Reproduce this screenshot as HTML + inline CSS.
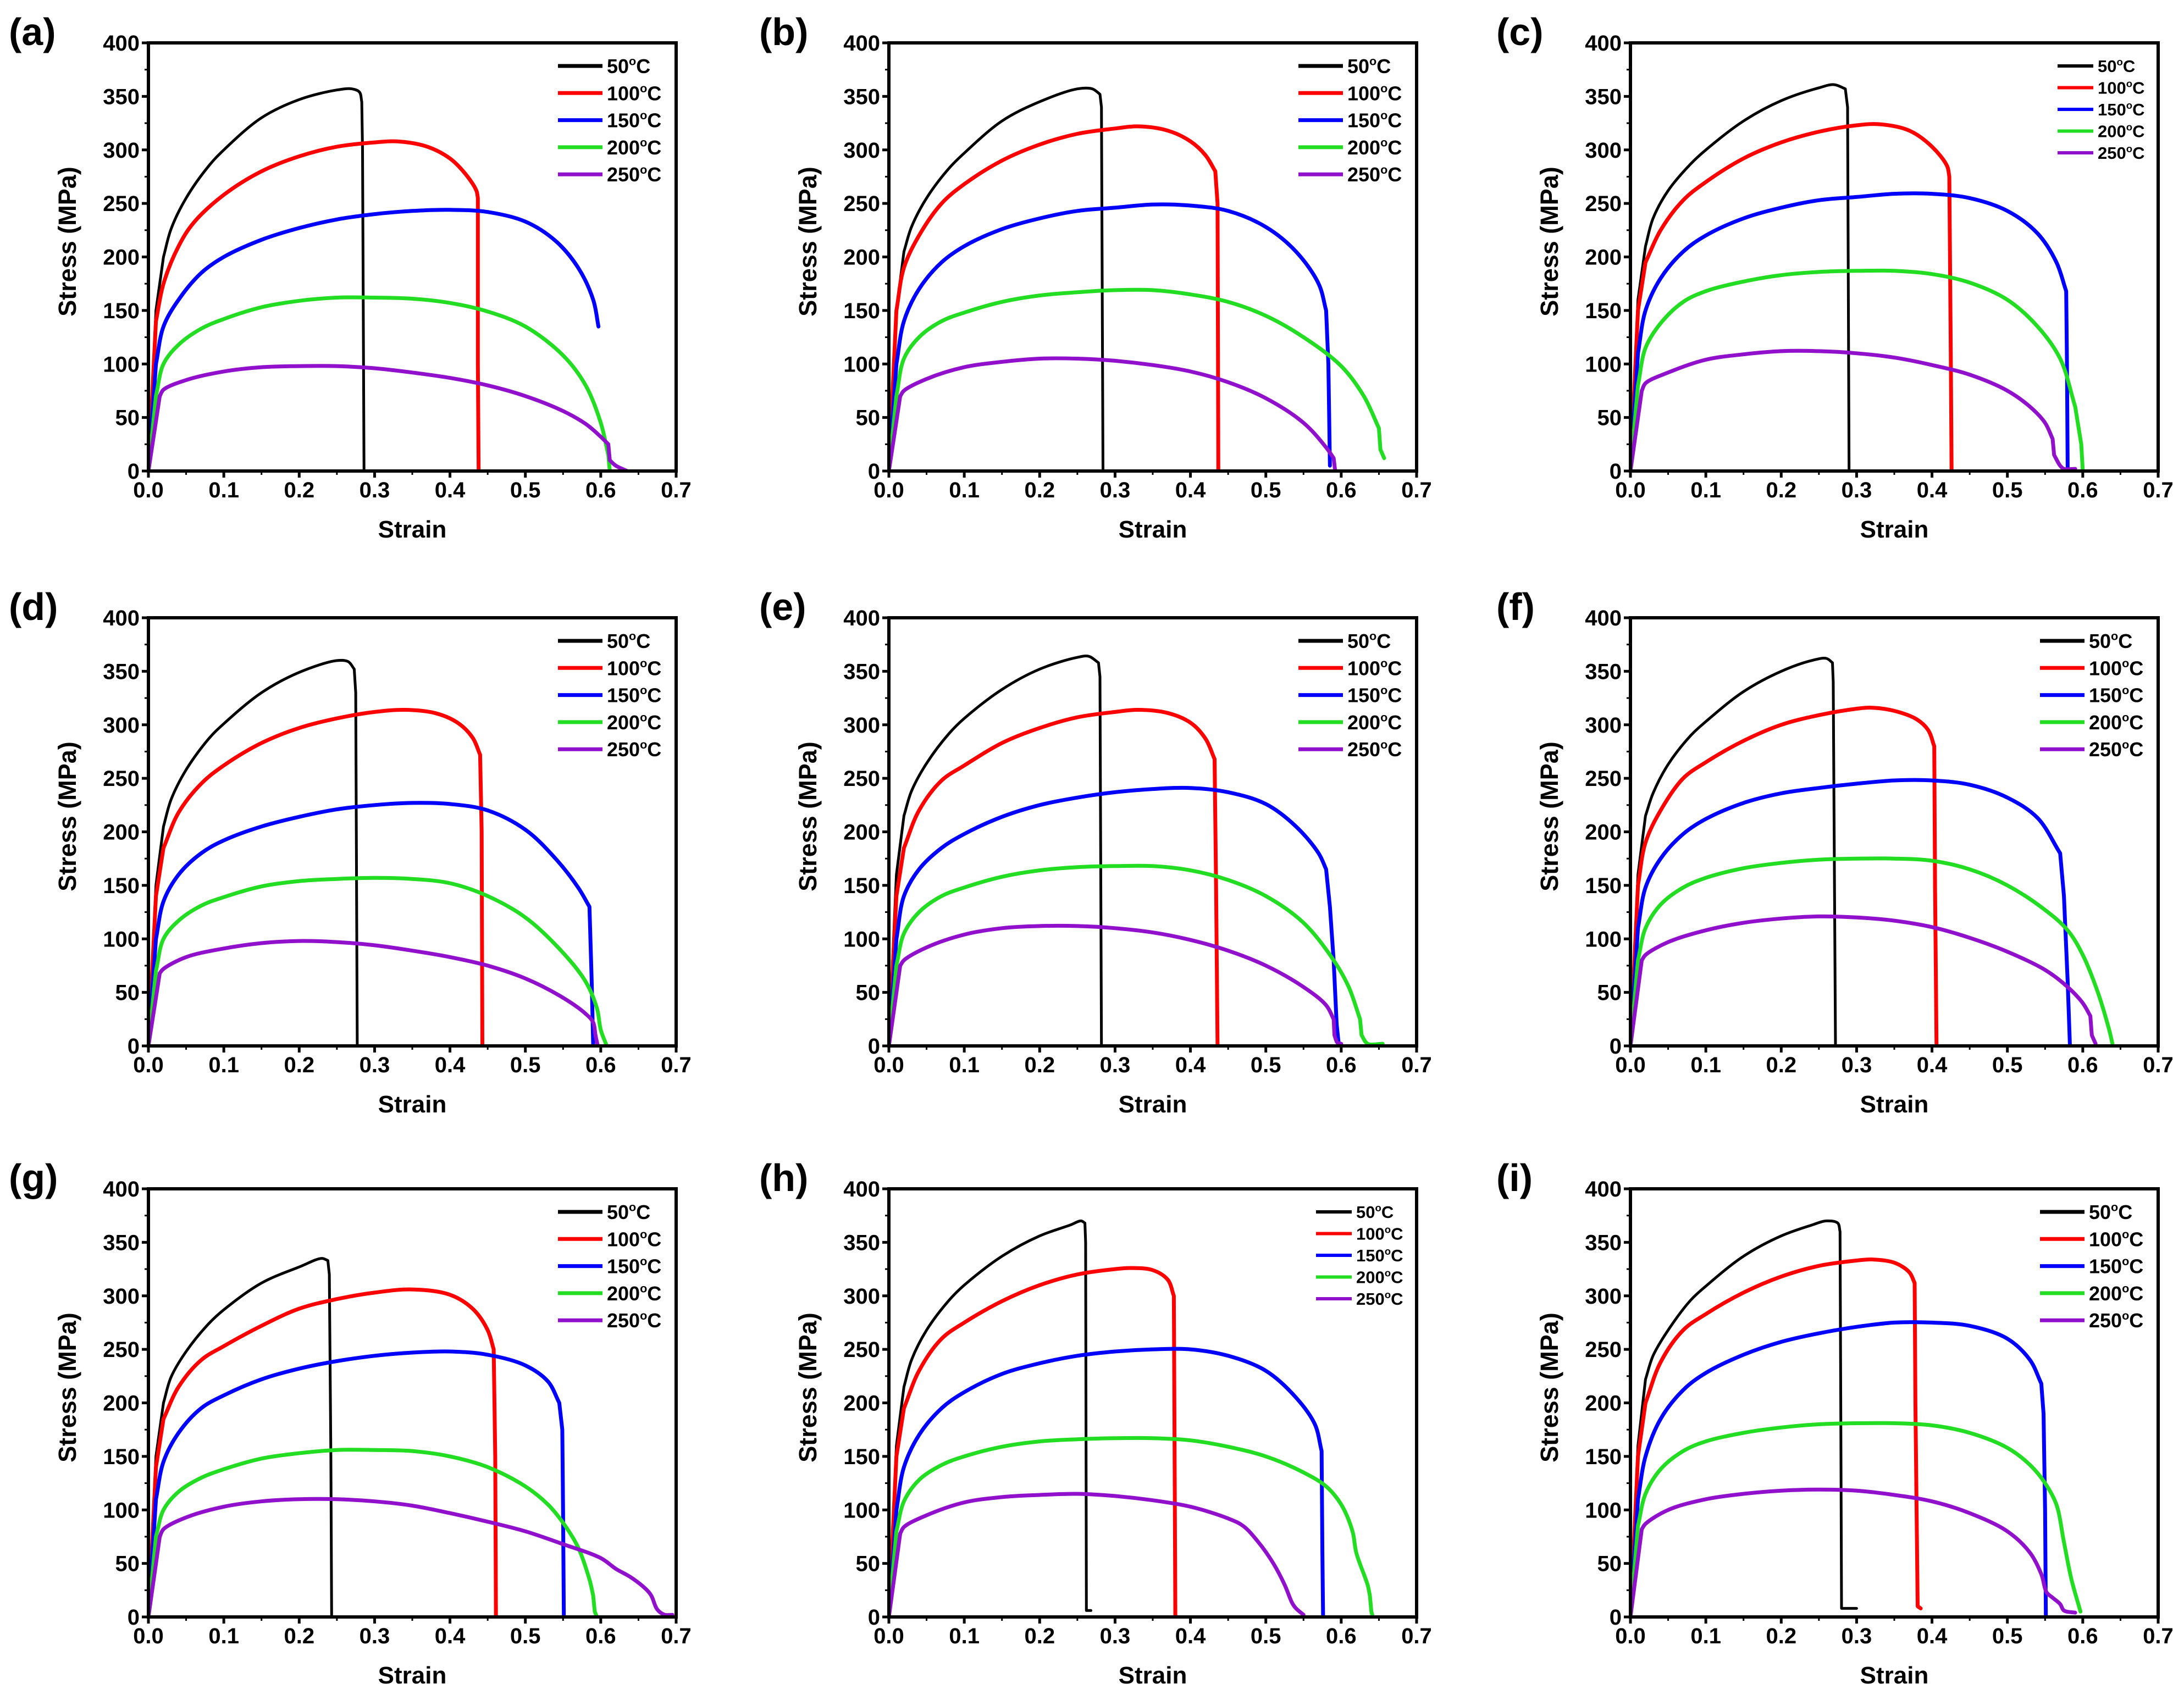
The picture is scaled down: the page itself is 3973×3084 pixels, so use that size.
<!DOCTYPE html>
<html><head><meta charset="utf-8">
<style>
html,body{margin:0;padding:0;background:#fff;}
svg{display:block;}
text{font-family:"Liberation Sans",Arial,sans-serif;font-weight:bold;fill:#000;}
</style></head>
<body>
<svg id="fig" xmlns="http://www.w3.org/2000/svg" width="3973" height="3084" viewBox="0 0 3973 3084"></svg>
<script>
// ---- data ----
const xTickVals = [0,0.1,0.2,0.3,0.4,0.5,0.6,0.7];
const xTickLabels = ["0.0","0.1","0.2","0.3","0.4","0.5","0.6","0.7"];
const yTickVals = [0,50,100,150,200,250,300,350,400];
const yTickLabels = ["0","50","100","150","200","250","300","350","400"];
const temps = ["50","100","150","200","250"];
const panelLetters = ["a","b","c","d","e","f","g","h","i"];

const a_50=[[0,0],[0.01,150],[0.02,200],[0.03,226],[0.05,255],[0.08,285],[0.1,300],[0.15,330],[0.2,347],[0.25,356],[0.27,357],[0.28,354],[0.283,345],[0.284,300],[0.286,0]];
const a_100=[[0,0],[0.01,140],[0.02,175],[0.04,210],[0.06,232],[0.1,258],[0.15,280],[0.2,294],[0.25,303],[0.3,307],[0.33,308],[0.37,303],[0.4,292],[0.42,278],[0.435,262],[0.437,255],[0.437,100],[0.438,0]];
const a_150=[[0,0],[0.01,100],[0.02,135],[0.04,160],[0.07,185],[0.1,200],[0.15,216],[0.2,227],[0.25,235],[0.3,240],[0.35,243],[0.4,244],[0.45,242],[0.5,233],[0.54,215],[0.57,190],[0.59,160],[0.597,135]];
const a_200=[[0,0],[0.01,70],[0.02,100],[0.04,118],[0.07,133],[0.1,142],[0.15,153],[0.2,159],[0.25,162],[0.3,162],[0.35,161],[0.4,157],[0.45,149],[0.5,135],[0.55,108],[0.58,80],[0.6,45],[0.61,15],[0.612,0]];
const a_250=[[0,0],[0.015,70],[0.02,76],[0.05,85],[0.1,93],[0.15,97],[0.2,98],[0.25,98],[0.3,96],[0.35,92],[0.4,87],[0.45,80],[0.5,70],[0.55,56],[0.58,44],[0.6,32],[0.61,25],[0.612,10],[0.62,5],[0.635,0]];

const b_50=[[0,0],[0.01,150],[0.02,205],[0.03,228],[0.05,255],[0.08,283],[0.1,297],[0.15,327],[0.2,345],[0.25,357],[0.27,357],[0.28,352],[0.282,340],[0.284,0]];
const b_100=[[0,0],[0.01,150],[0.02,190],[0.04,220],[0.07,250],[0.1,268],[0.15,290],[0.2,305],[0.25,315],[0.3,320],[0.33,322],[0.37,318],[0.4,308],[0.42,295],[0.433,280],[0.436,250],[0.437,0]];
const b_150=[[0,0],[0.01,100],[0.02,140],[0.04,170],[0.07,195],[0.1,210],[0.15,226],[0.2,236],[0.25,243],[0.3,246],[0.35,249],[0.4,248],[0.45,243],[0.5,228],[0.54,205],[0.57,175],[0.58,150],[0.583,100],[0.585,5]];
const b_200=[[0,0],[0.01,70],[0.02,105],[0.04,125],[0.07,140],[0.1,148],[0.15,158],[0.2,164],[0.25,167],[0.3,169],[0.35,169],[0.4,165],[0.45,158],[0.5,145],[0.55,125],[0.6,98],[0.63,70],[0.65,40],[0.652,20],[0.657,12]];
const b_250=[[0,0],[0.015,70],[0.02,75],[0.05,86],[0.1,97],[0.15,102],[0.2,105],[0.25,105],[0.3,103],[0.35,99],[0.4,93],[0.45,83],[0.5,68],[0.55,45],[0.58,22],[0.59,12],[0.592,0]];

const c_50=[[0,0],[0.01,160],[0.02,210],[0.03,236],[0.05,262],[0.08,287],[0.1,300],[0.15,327],[0.2,346],[0.25,358],[0.27,361],[0.285,357],[0.288,340],[0.29,0]];
const c_100=[[0,0],[0.01,150],[0.02,195],[0.04,225],[0.07,253],[0.1,270],[0.15,292],[0.2,307],[0.25,317],[0.3,323],[0.33,324],[0.37,318],[0.4,303],[0.42,285],[0.423,275],[0.425,100],[0.426,0]];
const c_150=[[0,0],[0.01,110],[0.02,150],[0.04,180],[0.07,205],[0.1,220],[0.15,236],[0.2,246],[0.25,253],[0.3,256],[0.35,259],[0.4,259],[0.45,255],[0.5,243],[0.54,222],[0.565,195],[0.578,168],[0.579,100],[0.58,0]];
const c_200=[[0,0],[0.01,80],[0.02,115],[0.04,138],[0.07,158],[0.1,168],[0.15,177],[0.2,183],[0.25,186],[0.3,187],[0.35,187],[0.4,184],[0.45,176],[0.5,160],[0.54,135],[0.57,105],[0.59,60],[0.598,25],[0.6,0]];
const c_250=[[0,0],[0.015,75],[0.02,82],[0.05,92],[0.1,104],[0.15,109],[0.2,112],[0.25,112],[0.3,110],[0.35,106],[0.4,99],[0.45,90],[0.5,75],[0.53,60],[0.55,45],[0.56,30],[0.562,15],[0.57,5],[0.575,2],[0.59,2]];

const d_50=[[0,0],[0.01,150],[0.02,205],[0.03,230],[0.05,258],[0.08,287],[0.1,301],[0.15,330],[0.2,349],[0.25,360],[0.265,359],[0.273,352],[0.275,330],[0.277,0]];
const d_100=[[0,0],[0.01,140],[0.02,185],[0.04,218],[0.07,245],[0.1,262],[0.15,283],[0.2,297],[0.25,306],[0.3,312],[0.34,314],[0.38,311],[0.41,302],[0.43,288],[0.44,272],[0.442,200],[0.443,0]];
const d_150=[[0,0],[0.01,100],[0.02,135],[0.04,160],[0.07,180],[0.1,192],[0.15,205],[0.2,214],[0.25,221],[0.3,225],[0.35,227],[0.4,226],[0.45,220],[0.5,202],[0.54,175],[0.57,148],[0.585,130],[0.588,60],[0.59,0]];
const d_200=[[0,0],[0.01,70],[0.02,100],[0.04,117],[0.07,131],[0.1,139],[0.15,149],[0.2,154],[0.25,156],[0.3,157],[0.35,156],[0.4,152],[0.45,140],[0.5,120],[0.55,87],[0.58,60],[0.595,35],[0.6,15],[0.608,0]];
const d_250=[[0,0],[0.015,68],[0.02,72],[0.05,83],[0.1,91],[0.15,96],[0.2,98],[0.25,97],[0.3,94],[0.35,89],[0.4,83],[0.45,75],[0.5,63],[0.55,45],[0.58,30],[0.59,22],[0.593,10],[0.596,0]];

const e_50=[[0,0],[0.01,160],[0.02,215],[0.03,238],[0.05,264],[0.08,292],[0.1,306],[0.15,333],[0.2,352],[0.25,363],[0.265,364],[0.278,358],[0.28,345],[0.282,0]];
const e_100=[[0,0],[0.01,140],[0.02,185],[0.04,220],[0.07,248],[0.1,262],[0.15,283],[0.2,297],[0.25,307],[0.3,312],[0.33,314],[0.37,311],[0.4,302],[0.42,287],[0.432,268],[0.434,150],[0.436,0]];
const e_150=[[0,0],[0.01,100],[0.02,140],[0.04,165],[0.07,185],[0.1,198],[0.15,214],[0.2,225],[0.25,232],[0.3,237],[0.35,240],[0.4,241],[0.45,237],[0.5,226],[0.54,205],[0.57,180],[0.58,165],[0.585,130],[0.59,80],[0.594,20],[0.597,0]];
const e_200=[[0,0],[0.01,75],[0.02,105],[0.04,125],[0.07,140],[0.1,148],[0.15,158],[0.2,164],[0.25,167],[0.3,168],[0.35,168],[0.4,164],[0.45,155],[0.5,140],[0.55,115],[0.59,80],[0.61,55],[0.625,25],[0.627,10],[0.635,2],[0.655,2]];
const e_250=[[0,0],[0.015,75],[0.02,80],[0.05,92],[0.1,104],[0.15,110],[0.2,112],[0.25,112],[0.3,110],[0.35,106],[0.4,99],[0.45,89],[0.5,75],[0.55,55],[0.58,38],[0.59,25],[0.591,10],[0.595,3],[0.6,2]];

const f_50=[[0,0],[0.01,160],[0.02,215],[0.03,236],[0.05,263],[0.08,290],[0.1,303],[0.15,331],[0.2,350],[0.24,360],[0.26,362],[0.268,358],[0.269,340],[0.272,0]];
const f_100=[[0,0],[0.01,150],[0.02,190],[0.04,220],[0.07,250],[0.1,265],[0.15,285],[0.2,300],[0.25,309],[0.3,315],[0.32,316],[0.35,313],[0.38,305],[0.395,295],[0.403,280],[0.404,150],[0.406,0]];
const f_150=[[0,0],[0.01,110],[0.02,148],[0.04,175],[0.07,198],[0.1,212],[0.15,227],[0.2,236],[0.25,241],[0.3,245],[0.35,248],[0.4,248],[0.45,244],[0.5,232],[0.54,213],[0.57,180],[0.575,140],[0.58,60],[0.583,0]];
const f_200=[[0,0],[0.01,80],[0.02,110],[0.04,132],[0.07,148],[0.1,157],[0.15,166],[0.2,171],[0.25,174],[0.3,175],[0.35,175],[0.4,173],[0.45,165],[0.5,150],[0.55,127],[0.58,108],[0.6,85],[0.62,50],[0.635,15],[0.64,0]];
const f_250=[[0,0],[0.015,80],[0.02,85],[0.05,97],[0.1,108],[0.15,115],[0.2,119],[0.25,121],[0.3,120],[0.35,117],[0.4,111],[0.45,101],[0.5,88],[0.55,71],[0.58,55],[0.6,40],[0.61,28],[0.612,10],[0.617,2]];

const g_50=[[0,0],[0.01,150],[0.02,200],[0.03,224],[0.05,248],[0.08,274],[0.1,287],[0.15,312],[0.2,327],[0.23,335],[0.238,333],[0.24,320],[0.242,150],[0.243,0]];
const g_100=[[0,0],[0.01,140],[0.02,185],[0.04,215],[0.07,240],[0.1,253],[0.15,272],[0.2,288],[0.25,297],[0.3,303],[0.35,306],[0.4,301],[0.43,288],[0.45,268],[0.458,250],[0.46,150],[0.461,0]];
const g_150=[[0,0],[0.01,110],[0.02,145],[0.04,172],[0.07,195],[0.1,207],[0.15,222],[0.2,232],[0.25,239],[0.3,244],[0.35,247],[0.4,248],[0.45,245],[0.5,235],[0.53,220],[0.545,200],[0.549,175],[0.55,100],[0.551,0]];
const g_200=[[0,0],[0.01,75],[0.02,100],[0.04,117],[0.07,130],[0.1,138],[0.15,148],[0.2,153],[0.25,156],[0.3,156],[0.35,155],[0.4,150],[0.45,140],[0.5,122],[0.53,105],[0.55,88],[0.57,65],[0.585,35],[0.59,20],[0.592,5],[0.595,0]];
const g_250=[[0,0],[0.015,75],[0.02,82],[0.05,93],[0.1,103],[0.15,108],[0.2,110],[0.25,110],[0.3,108],[0.35,104],[0.4,97],[0.45,89],[0.5,80],[0.55,68],[0.6,55],[0.62,45],[0.64,37],[0.66,26],[0.667,20],[0.675,7],[0.685,2],[0.695,2]];

const h_50=[[0,0],[0.01,160],[0.02,215],[0.03,240],[0.05,268],[0.08,296],[0.1,310],[0.15,337],[0.2,356],[0.24,366],[0.255,370],[0.26,368],[0.261,350],[0.262,6],[0.268,6]];
const h_100=[[0,0],[0.01,150],[0.02,195],[0.04,230],[0.07,260],[0.1,275],[0.15,295],[0.2,310],[0.25,320],[0.3,325],[0.32,326],[0.35,324],[0.37,315],[0.378,300],[0.379,150],[0.38,0],[0.382,0]];
const h_150=[[0,0],[0.01,100],[0.02,140],[0.04,170],[0.07,195],[0.1,210],[0.15,227],[0.2,237],[0.25,244],[0.3,248],[0.35,250],[0.4,250],[0.45,244],[0.5,230],[0.54,205],[0.565,180],[0.574,155],[0.575,60],[0.576,0]];
const h_200=[[0,0],[0.01,80],[0.02,108],[0.04,128],[0.07,142],[0.1,150],[0.15,159],[0.2,164],[0.25,166],[0.3,167],[0.35,167],[0.4,165],[0.45,159],[0.5,150],[0.55,135],[0.58,122],[0.6,105],[0.615,80],[0.62,60],[0.635,30],[0.638,20],[0.64,5],[0.642,0]];
const h_250=[[0,0],[0.015,78],[0.02,84],[0.05,95],[0.1,107],[0.15,112],[0.2,114],[0.25,115],[0.3,113],[0.35,109],[0.4,103],[0.45,92],[0.47,85],[0.49,70],[0.51,50],[0.525,30],[0.535,13],[0.54,8],[0.55,2]];

const i_50=[[0,0],[0.01,160],[0.02,222],[0.03,244],[0.05,268],[0.08,296],[0.1,309],[0.15,337],[0.2,356],[0.24,366],[0.26,370],[0.275,368],[0.278,360],[0.279,200],[0.28,8],[0.3,8]];
const i_100=[[0,0],[0.01,150],[0.02,200],[0.04,238],[0.07,268],[0.1,283],[0.15,303],[0.2,318],[0.25,328],[0.3,333],[0.32,334],[0.35,331],[0.37,322],[0.377,312],[0.378,200],[0.381,10],[0.385,8]];
const i_150=[[0,0],[0.01,110],[0.02,150],[0.04,185],[0.07,212],[0.1,228],[0.15,245],[0.2,257],[0.25,265],[0.3,271],[0.35,275],[0.4,275],[0.45,272],[0.5,260],[0.53,240],[0.545,218],[0.548,190],[0.55,100],[0.551,0]];
const i_200=[[0,0],[0.01,85],[0.02,115],[0.04,138],[0.07,155],[0.1,164],[0.15,172],[0.2,177],[0.25,180],[0.3,181],[0.35,181],[0.4,179],[0.45,172],[0.5,158],[0.53,142],[0.55,125],[0.565,105],[0.575,70],[0.585,35],[0.597,5]];
const i_250=[[0,0],[0.015,82],[0.02,87],[0.05,100],[0.1,110],[0.15,115],[0.2,118],[0.25,119],[0.3,118],[0.35,114],[0.4,108],[0.45,97],[0.5,80],[0.53,60],[0.545,40],[0.552,23],[0.56,18],[0.57,12],[0.575,6],[0.59,4]];

const panelSeries = [
  [a_50,a_100,a_150,a_200,a_250],[b_50,b_100,b_150,b_200,b_250],[c_50,c_100,c_150,c_200,c_250],
  [d_50,d_100,d_150,d_200,d_250],[e_50,e_100,e_150,e_200,e_250],[f_50,f_100,f_150,f_200,f_250],
  [g_50,g_100,g_150,g_200,g_250],[h_50,h_100,h_150,h_200,h_250],[i_50,i_100,i_150,i_200,i_250]];

// ---- layout / style ----
const colors = ["#000000","#ff0000","#0000ff","#22dd22","#9010cc"];
const widths = [5,7,7,7,7];
const colL = [270,1617,2966];
const rowT = [78,1124,2163];
const PW = 960, PH = 779;
const labelX = [16,1381,2722];
const NS = "http://www.w3.org/2000/svg";
const svg = document.getElementById("fig");

function mk(tag, attrs, parent){
  const e = document.createElementNS(NS, tag);
  for (const k in attrs) e.setAttribute(k, attrs[k]);
  (parent||svg).appendChild(e);
  return e;
}

function steep(p,q){ const dx=Math.abs(q[0]-p[0]), dy=Math.abs(q[1]-p[1]); return dy > 6*dx && dy > 20; }

function smoothPath(P){
  let d = "M" + P[0][0].toFixed(1) + "," + P[0][1].toFixed(1);
  const n = P.length;
  const dist = (p,q) => Math.max(1e-3, Math.sqrt(Math.hypot(q[0]-p[0], q[1]-p[1])));
  for (let k = 0; k < n-1; k++) {
    const p1 = P[k], p2 = P[k+1];
    if (steep(p1,p2)) { d += " L" + p2[0].toFixed(1) + "," + p2[1].toFixed(1); continue; }
    const p0 = (k > 0 && !steep(P[k-1],p1)) ? P[k-1] : [2*p1[0]-p2[0], 2*p1[1]-p2[1]];
    const p3 = (k < n-2 && !steep(p2,P[k+2])) ? P[k+2] : [2*p2[0]-p1[0], 2*p2[1]-p1[1]];
    const d1 = dist(p0,p1), d2 = dist(p1,p2), d3 = dist(p2,p3);
    const b1 = [0,1].map(j => (d1*d1*p2[j] - d2*d2*p0[j] + (2*d1*d1+3*d1*d2+d2*d2)*p1[j]) / (3*d1*(d1+d2)));
    const b2 = [0,1].map(j => (d3*d3*p1[j] - d2*d2*p3[j] + (2*d3*d3+3*d3*d2+d2*d2)*p2[j]) / (3*d3*(d3+d2)));
    d += " C" + b1[0].toFixed(1) + "," + b1[1].toFixed(1) + " " + b2[0].toFixed(1) + "," + b2[1].toFixed(1) + " " + p2[0].toFixed(1) + "," + p2[1].toFixed(1);
  }
  return d;
}

panelLetters.forEach((L, idx) => {
  const col = idx % 3, row = Math.floor(idx/3);
  const x0 = colL[col], y0 = rowT[row];
  const xs = v => x0 + v/0.7*PW;
  const ys = v => y0 + PH - v/400*PH;
  const g = mk("g", {});
  
  

  const lab = mk("text", {x: labelX[col], y: y0+4, "font-size": 70}, g);
  lab.textContent = "(" + L + ")";
  
  

  const clipId = "clip-" + L;
  const cp = mk("clipPath", {id: clipId}, g);
  mk("rect", {x: x0, y: y0-10, width: PW, height: PH+10}, cp);

  panelSeries[idx].forEach((pts, s) => {
    const P = pts.map(p => [xs(p[0]), ys(p[1])]);
    const path = mk("path", {d: smoothPath(P), fill: "none", stroke: colors[s], "stroke-width": widths[s], "stroke-linejoin": "round", "stroke-linecap": "round", "clip-path": "url(#" + clipId + ")"}, g);
    
    
  });

  const fr = mk("rect", {x: x0, y: y0, width: PW, height: PH, fill: "none", stroke: "#000", "stroke-width": 6}, g);
  
  

  yTickVals.forEach((v, k) => {
    mk("line", {x1: x0-12, x2: x0, y1: ys(v), y2: ys(v), stroke: "#000", "stroke-width": 5}, g);
    if (k < yTickVals.length-1) mk("line", {x1: x0-7, x2: x0, y1: ys(v+25), y2: ys(v+25), stroke: "#000", "stroke-width": 3}, g);
    const t = mk("text", {x: x0-16, y: ys(v)+14, "font-size": 40, "text-anchor": "end"}, g);
    t.textContent = yTickLabels[k];
    
    
  });
  xTickVals.forEach((v, k) => {
    mk("line", {x1: xs(v), x2: xs(v), y1: y0+PH, y2: y0+PH+12, stroke: "#000", "stroke-width": 5}, g);
    if (k < xTickVals.length-1) mk("line", {x1: xs(v+0.05), x2: xs(v+0.05), y1: y0+PH, y2: y0+PH+7, stroke: "#000", "stroke-width": 3}, g);
    const t = mk("text", {x: xs(v), y: y0+PH+48, "font-size": 40, "text-anchor": "middle"}, g);
    t.textContent = xTickLabels[k];
    
    
  });

  const xt = mk("text", {x: x0+PW/2, y: y0+PH+121, "font-size": 44, "text-anchor": "middle"}, g);
  xt.textContent = "Strain";
  
  
  const ycx = x0-148, ycy = y0+PH/2-28;
  const yt = mk("text", {x: ycx, y: ycy+16, "font-size": 45, "text-anchor": "middle", transform: "rotate(-90 " + ycx + " " + ycy + ")"}, g);
  yt.textContent = "Stress (MPa)";
  
  

  const small = (L === "c" || L === "h");
  const lx0 = x0 + (small ? 777 : 745), lx1 = x0 + (small ? 842 : 826);
  const ly0 = y0 + 42, lsp = small ? 39.5 : 49.3;
  const fs = small ? 31 : 36;
  const leg = mk("g", {}, g);
  
  
  temps.forEach((tp, s) => {
    const yy = ly0 + s*lsp;
    mk("line", {x1: lx0, x2: lx1, y1: yy, y2: yy, stroke: colors[s], "stroke-width": small ? 6 : 7}, leg);
    const t = mk("text", {x: lx1 + 8, y: yy + fs*0.36, "font-size": fs}, leg);
    
    
    const t1 = mk("tspan", {}, t); t1.textContent = tp;
    const t2 = mk("tspan", {dy: -fs*0.4, "font-size": fs*0.6}, t); t2.textContent = "o";
    const t3 = mk("tspan", {dy: fs*0.4}, t); t3.textContent = "C";
  });
});
</script>
</body></html>
